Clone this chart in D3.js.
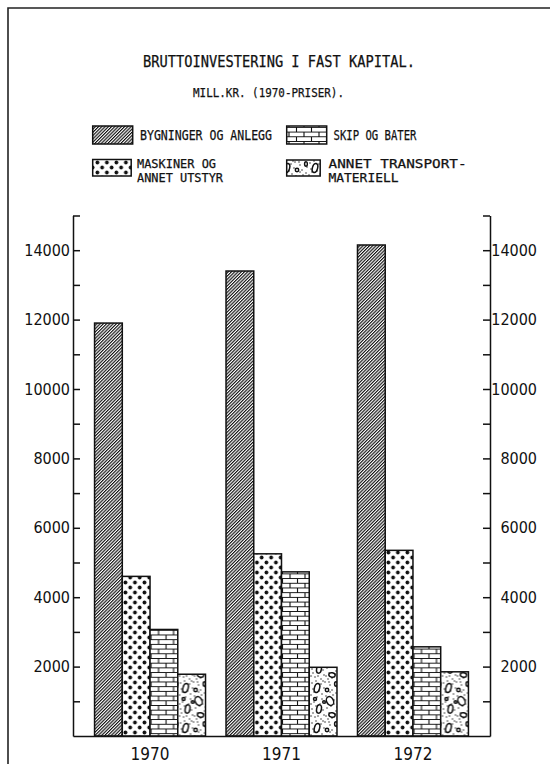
<!DOCTYPE html>
<html><head><meta charset="utf-8">
<script src="https://cdn.jsdelivr.net/npm/d3@7"></script>
<style>
html,body{margin:0;padding:0;background:#fff;}
svg{display:block;}
.mono{font-family:"DejaVu Sans Mono","Liberation Mono",monospace;fill:#111;stroke:#111;stroke-width:0.25;}
.num{font-family:"DejaVu Sans Condensed","DejaVu Sans","Liberation Sans",sans-serif;font-stretch:condensed;fill:#111;}
</style>
</head><body>
<script>
// ---- data ----
const years = ["1970", "1971", "1972"];
const seriesKeys = ["bygninger", "maskiner", "skip", "annet"];
const bygninger = [11900, 13400, 14150];
const maskiner = [4600, 5250, 5350];
const skip = [3070, 4730, 2570];
const annet = [1780, 1980, 1850];
const tickValues = [1000,2000,3000,4000,5000,6000,7000,8000,9000,10000,11000,12000,13000,14000,15000];
const labelledTicks = [2000,4000,6000,8000,10000,12000,14000];
const title = "BRUTTOINVESTERING I FAST KAPITAL.";
const subtitle = "MILL.KR. (1970-PRISER).";
const legendLabels = {
  bygninger: ["BYGNINGER OG ANLEGG"],
  skip: ["SKIP OG BATER"],
  maskiner: ["MASKINER OG", "ANNET UTSTYR"],
  annet: ["ANNET TRANSPORT-", "MATERIELL"]
};

const values = {bygninger, maskiner, skip, annet};
const rows = years.map((y, i) => ({year: y, ...Object.fromEntries(seriesKeys.map(k => [k, values[k][i]]))}));

const W = 550, H = 764;
const svg = d3.select("body").append("svg").attr("width", W).attr("height", H);
const ink = "#111";

// ---- patterns ----
const defs = svg.append("defs");
// diagonal hatch
const ph = defs.append("pattern").attr("id","p-bygninger").attr("patternUnits","userSpaceOnUse")
  .attr("width",2.3).attr("height",10).attr("patternTransform","rotate(45)");
ph.append("rect").attr("width",2.3).attr("height",10).attr("fill","#fff");
ph.append("rect").attr("x",0).attr("width",1.15).attr("height",10).attr("fill",ink);
// dots
const pd = defs.append("pattern").attr("id","p-maskiner").attr("patternUnits","userSpaceOnUse")
  .attr("width",9.5).attr("height",10);
pd.append("rect").attr("width",9.5).attr("height",10).attr("fill","#fff");
pd.append("circle").attr("cx",2.4).attr("cy",2.5).attr("r",1.9).attr("fill",ink);
pd.append("circle").attr("cx",7.15).attr("cy",7.5).attr("r",1.9).attr("fill",ink);
// bricks
const pb = defs.append("pattern").attr("id","p-skip").attr("patternUnits","userSpaceOnUse")
  .attr("width",15).attr("height",9.4);
pb.append("rect").attr("width",15).attr("height",9.4).attr("fill","#fff");
pb.append("path").attr("d","M0,0.5H15M0,5.2H15M4,0.5V5.2M11.5,5.2V9.4")
  .attr("stroke",ink).attr("stroke-width",1.1).attr("fill","none");
// pebbles
const pp = defs.append("pattern").attr("id","p-annet").attr("patternUnits","userSpaceOnUse")
  .attr("width",28).attr("height",40);
pp.append("rect").attr("width",28).attr("height",40).attr("fill","#fff");
const stip = [[2,3],[6,1],[11,4],[15,2],[20,5],[25,3],[3,9],[9,11],[14,8],[22,10],[26,13],[1,15],[7,17],[12,14],[18,18],[24,20],[4,22],[10,24],[15,23],[21,26],[27,27],[2,29],[8,31],[13,30],[19,33],[25,34],[5,37],[11,39],[16,36],[22,38],[1,36],[19,2],[9,6],[23,15],[3,33],[17,28],[12,19],[6,26],[26,31],[14,35],[4,12],[20,12],[16,16],[8,36],[24,24],[11,28],[1,24],[27,7],[13,1],[18,39]];
stip.forEach(([x,y]) => pp.append("circle").attr("cx",x).attr("cy",y).attr("r",0.7).attr("fill",ink));
[[7,8,2.6,4.6,15],[20,21,3.4,4.6,-25],[9,29,2.4,4.2,10],[22,35,3.2,2.2,10],[17,10,1.7,1.7,0],[5,19,1.5,1.5,0],[14,22,1.3,1.3,0],[26,4,1.4,2.2,0]].forEach(([cx,cy,rx,ry,a]) =>
  pp.append("ellipse").attr("cx",cx).attr("cy",cy).attr("rx",rx).attr("ry",ry)
    .attr("transform",`rotate(${a},${cx},${cy})`)
    .attr("fill","#fff").attr("stroke",ink).attr("stroke-width",1.5));

// ---- frame ----
svg.append("path").attr("d","M8,764V8H550").attr("fill","none").attr("stroke","#222").attr("stroke-width",1.6);

// ---- titles ----
svg.append("text").attr("class","mono").attr("x",143).attr("y",66.5).attr("font-size",15)
  .attr("textLength",272).attr("lengthAdjust","spacingAndGlyphs").text(title);
svg.append("text").attr("class","mono").attr("x",193).attr("y",96.7).attr("font-size",13)
  .attr("textLength",151).attr("lengthAdjust","spacingAndGlyphs").text(subtitle);

// ---- legend ----
const legendItems = [
  {key:"bygninger", sx:92.7, sy:126, sw:40, sh:18, tx:140, ty:[140], tl:[132]},
  {key:"skip", sx:286.7, sy:126, sw:40, sh:18, tx:333.5, ty:[140], tl:[83]},
  {key:"maskiner", sx:92.7, sy:159.5, sw:38.5, sh:16.5, tx:137, ty:[167.8,182.3], tl:[79,86]},
  {key:"annet", sx:286.7, sy:160, sw:33.5, sh:16, tx:328.5, ty:[167.8,182.3], tl:[138,70]}
];
legendItems.forEach(it => {
  svg.append("rect").attr("x",it.sx).attr("y",it.sy).attr("width",it.sw).attr("height",it.sh)
    .attr("fill",`url(#p-${it.key})`).attr("stroke",ink).attr("stroke-width",1.5);
  legendLabels[it.key].forEach((t,i) => {
    svg.append("text").attr("class","mono").attr("x",it.tx).attr("y",it.ty[i])
      .attr("font-size", legendLabels[it.key].length > 1 ? 12 : 14)
      .attr("textLength",it.tl[i]).attr("lengthAdjust","spacingAndGlyphs").text(t);
  });
});

// ---- scales ----
const x0 = 73, x1 = 490, yBase = 736, yTop = 215.5;
const y = d3.scaleLinear().domain([0, 15000]).range([yBase, yTop]);
const x = d3.scaleBand().domain(years).range([x0, x1]).paddingInner(0.156).paddingOuter(0.164);
const xs = d3.scaleBand().domain(seriesKeys).range([0, x.bandwidth()]);

// ---- bars ----
const g = svg.append("g");
g.selectAll("g.grp").data(rows).join("g").attr("class","grp")
  .attr("transform", d => `translate(${x(d.year)},0)`)
  .selectAll("rect").data(d => seriesKeys.map(k => ({key:k, value:d[k]}))).join("rect")
  .attr("x", d => xs(d.key)).attr("width", xs.bandwidth())
  .attr("y", d => y(d.value)).attr("height", d => yBase - y(d.value))
  .attr("fill", d => `url(#p-${d.key})`).attr("stroke", ink).attr("stroke-width", 1.5);

// ---- axes ----
const fmt = v => labelledTicks.includes(v) ? String(v) : "";
const left = svg.append("g").attr("transform",`translate(${x0},0)`)
  .call(d3.axisLeft(y).tickValues(tickValues).tickSizeInner(-7).tickSizeOuter(0).tickPadding(3).tickFormat(fmt));
const right = svg.append("g").attr("transform",`translate(${x1},0)`)
  .call(d3.axisRight(y).tickValues(tickValues).tickSizeInner(-7).tickSizeOuter(0).tickFormat(fmt));
right.selectAll("text").attr("x", 47).attr("text-anchor","end");
[left, right].forEach(a => {
  a.selectAll("path,line").attr("stroke", ink).attr("stroke-width", 1.5);
  a.selectAll("text").attr("class","num").attr("font-size",16).attr("fill",ink);
  a.attr("font-family", null).attr("font-size", null);
});
const bottom = svg.append("g").attr("transform",`translate(0,${yBase})`)
  .call(d3.axisBottom(x).tickSize(0).tickPadding(11.5));
bottom.selectAll("path").attr("stroke", ink).attr("stroke-width", 1.5);
bottom.selectAll("text").attr("class","num").attr("font-size",17).attr("fill",ink);
bottom.attr("font-family", null).attr("font-size", null);
</script>
</body></html>
